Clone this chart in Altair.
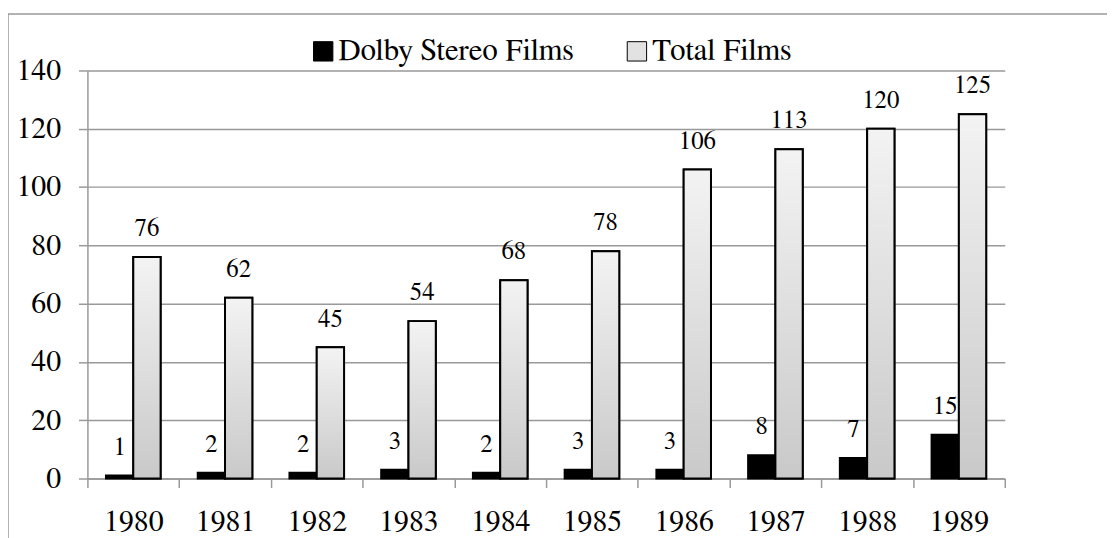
import altair as alt
import pandas as pd

years = ["1980", "1981", "1982", "1983", "1984", "1985", "1986", "1987", "1988", "1989"]
dolby = [1, 2, 2, 3, 2, 3, 3, 8, 7, 15]
total = [76, 62, 45, 54, 68, 78, 106, 113, 120, 125]
series = ["Dolby Stereo Films", "Total Films"]
y_ticks = [0, 20, 40, 60, 80, 100, 120, 140]

rows = []
for yr, d, t in zip(years, dolby, total):
    rows.append({"year": yr, "series": series[0], "value": d})
    rows.append({"year": yr, "series": series[1], "value": t})
df = pd.DataFrame(rows)

FONT = "FreeSerif"
GRID = "#999999"

x_enc = alt.X(
    "year:N", sort=years, title=None,
    scale=alt.Scale(paddingInner=0, paddingOuter=0),
    axis=alt.Axis(labelAngle=0, tickBand="extent", tickSize=9, labelPadding=19,
                  labelFontSize=30, labelFont=FONT, labelColor="black",
                  domainColor=GRID, tickColor=GRID, domainWidth=1.5, tickWidth=1.5,
                  grid=False),
)
xo_enc = alt.XOffset("series:N", sort=series,
                     scale=alt.Scale(domain=series, paddingInner=0, paddingOuter=0.68))
y_enc = alt.Y(
    "value:Q", title=None,
    scale=alt.Scale(domain=[0, 140], nice=False),
    axis=alt.Axis(values=y_ticks, tickSize=9, labelPadding=18, labelFontSize=30,
                  labelFont=FONT, labelColor="black", domainColor=GRID, tickColor=GRID,
                  gridColor=GRID, domainWidth=1.5, tickWidth=1.5, gridWidth=1.5,
                  grid=True),
)

frame = alt.Chart(pd.DataFrame({"k": [0]})).mark_rect(
    fill="transparent", stroke=GRID, strokeWidth=1.5
).encode(
    x=alt.value(-80), x2=alt.value(1300), y=alt.value(-57), y2=alt.value(700)
)

base = alt.Chart(df).mark_bar(stroke="black", strokeWidth=2).encode(
    x=x_enc, xOffset=xo_enc, y=y_enc,
    fill=alt.Fill("series:N", scale=alt.Scale(domain=series, range=["black", "#e2e2e2"]),
                  legend=alt.Legend(orient="none", legendX=222, legendY=-35,
                                    direction="horizontal", title=None,
                                    symbolType="square", symbolSize=380,
                                    symbolStrokeColor="black", symbolStrokeWidth=1,
                                    labelFont=FONT, labelFontSize=31, labelColor="black",
                                    labelOffset=0, columnPadding=48, labelLimit=400)),
)

grad = alt.Gradient(
    gradient="linear",
    stops=[alt.GradientStop(color="#f3f3f3", offset=0),
           alt.GradientStop(color="#c9c9c9", offset=1)],
    x1=0, x2=0, y1=0, y2=1,
)
total_bars = alt.Chart(df).transform_filter(
    alt.datum.series == series[1]
).mark_bar(fill=grad, stroke="black", strokeWidth=2).encode(
    x=x_enc, xOffset=xo_enc, y=y_enc
)

labels = alt.Chart(df).mark_text(
    baseline="bottom", dy=-16, fontSize=25, font=FONT, color="black"
).encode(
    x=x_enc, xOffset=xo_enc, y=y_enc, text="value:Q"
)

chart = alt.layer(frame, base, total_bars, labels).properties(
    width=924, height=411,
    autosize=alt.AutoSizeParams(type="none"),
    padding={"left": 80, "top": 61, "right": 103, "bottom": 58},
).configure_view(stroke=None)

chart.save("out.html", embed_options={"renderer": "svg", "actions": False})
